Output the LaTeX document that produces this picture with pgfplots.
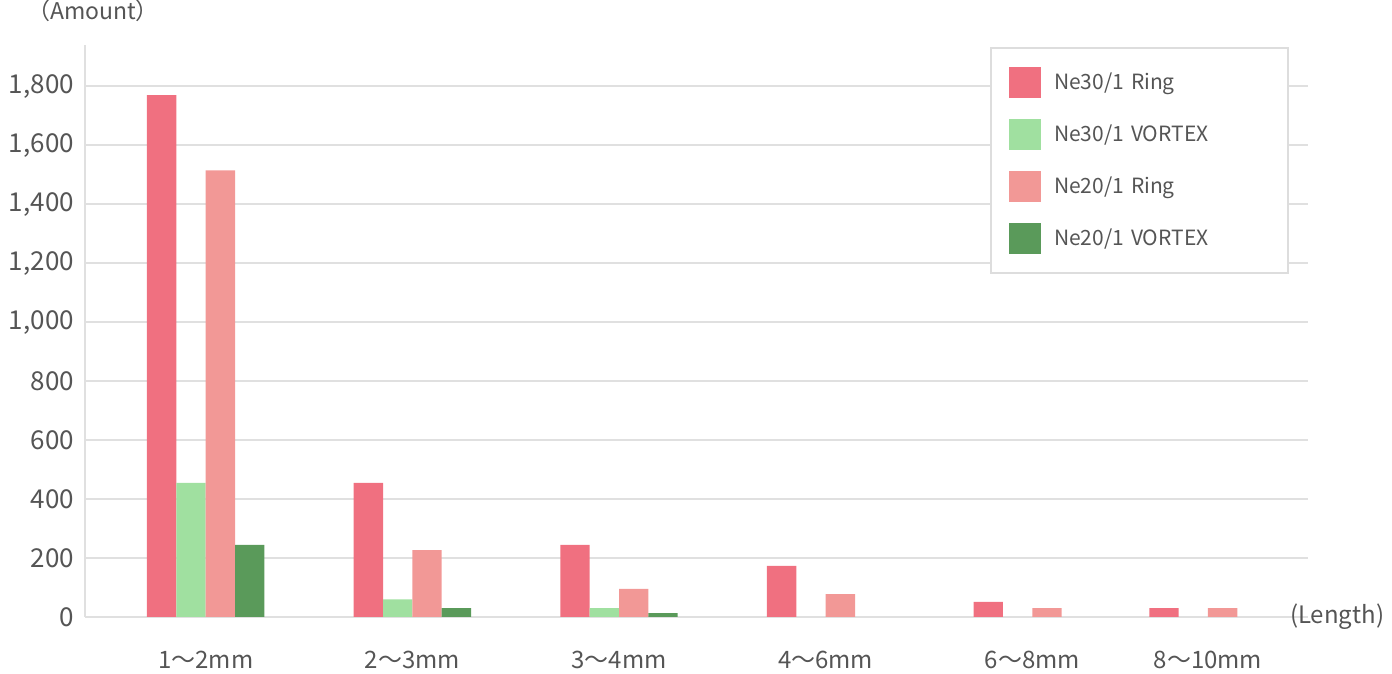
\documentclass[border=0pt]{standalone}
\usepackage{fontspec}
\setmainfont{Noto Sans CJK JP}
\usepackage{pgfplots}
\pgfplotsset{compat=1.18}
\definecolor{cRingA}{HTML}{F07080}
\definecolor{cVorA}{HTML}{A0E0A0}
\definecolor{cRingB}{HTML}{F29896}
\definecolor{cVorB}{HTML}{5A9A5A}
\definecolor{gridc}{HTML}{E0E0E0}
\definecolor{legc}{HTML}{DDDDDD}
\definecolor{txt}{HTML}{555555}

\begin{document}
\begin{tikzpicture}
\begin{axis}[
    scale only axis,
    width=611.5pt, height=286pt,
    clip=false,
    ybar=0pt, bar width=0.142,
    xmin=-0.584, xmax=5.334,
    ymin=0, ymax=1940,
    xtick={0,1,2,3,4,4.85},
    xticklabels={1〜2mm,2〜3mm,3〜4mm,4〜6mm,6〜8mm,8〜10mm},
    ytick={0,200,...,1800},
    ymajorgrids=true,
    grid style={gridc, line width=1pt},
    axis lines*=left,
    axis line style={gridc, line width=1pt},
    major tick length=0pt,
    /pgf/number format/.cd, 1000 sep={,}, assume math mode=true, /pgfplots/.cd,
    yticklabel style={font=\fontsize{13}{13}\selectfont, text=txt, xshift=-2pt},
    xticklabel style={font=\fontsize{12}{12}\selectfont, text=txt, yshift=-13.5pt},
    legend style={at={(rel axis cs:0.74,0.9965)}, anchor=north west,
        draw=legc, fill=white, line width=1pt,
        inner xsep=9pt, inner ysep=9.5pt,
        row sep=10.5pt, column sep=6.5pt,
        font=\fontsize{10.5}{10.5}\selectfont, text=txt,
        cells={anchor=west},
        nodes={inner sep=0pt, text width=108pt}},
    legend image code/.code={\fill[#1] (0pt,-7.75pt) rectangle (16pt,7.75pt);},
    legend cell align={left},
]

\addplot[fill=cRingA, draw=none] coordinates {(0,1770) (1,455) (2,245) (3,173) (4,51) (4.85,30)};
\addlegendentry{Ne30/1 Ring}
\addplot[fill=cVorA, draw=none] coordinates {(0,455) (1,60) (2,30)};
\addlegendentry{Ne30/1 VORTEX}
\addplot[fill=cRingB, draw=none] coordinates {(0,1515) (1,227) (2,95) (3,78) (4,30) (4.85,30)};
\addlegendentry{Ne20/1 Ring}
\addplot[fill=cVorB, draw=none] coordinates {(0,245) (1,30) (2,13)};
\addlegendentry{Ne20/1 VORTEX}

\node[font=\fontsize{11.5}{11.5}\selectfont, text=txt] at (rel axis cs:0,1) [yshift=17pt, xshift=4pt] {（Amount）};
\node[font=\fontsize{12}{12}\selectfont, text=txt, anchor=west] at (rel axis cs:0.9796,0) {(Length)};
\end{axis}
\pgfresetboundingbox
\path (-42.5pt,-28.5pt) rectangle (653.5pt,308.5pt);
\end{tikzpicture}
\end{document}
